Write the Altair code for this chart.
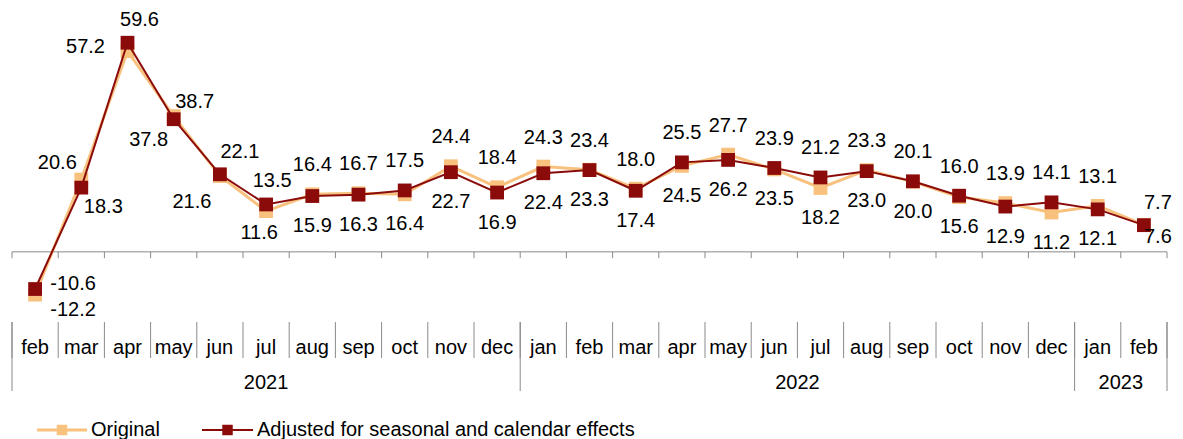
import altair as alt
import pandas as pd

# ---------------- data ----------------
months = ["feb", "mar", "apr", "may", "jun", "jul", "aug", "sep", "oct", "nov", "dec",
          "jan", "feb", "mar", "apr", "may", "jun", "jul", "aug", "sep", "oct", "nov", "dec",
          "jan", "feb"]
year_names = ["2021", "2022", "2023"]
year_month_counts = [11, 12, 2]
original = [-12.2, 20.6, 57.2, 38.7, 21.6, 11.6, 16.4, 16.7, 16.4, 24.4, 18.4,
            24.3, 23.4, 18.0, 24.5, 27.7, 23.5, 18.2, 23.3, 20.0, 15.6, 13.9, 11.2,
            13.1, 7.7]
adjusted = [-10.6, 18.3, 59.6, 37.8, 22.1, 13.5, 15.9, 16.3, 17.5, 22.7, 16.9,
            22.4, 23.3, 17.4, 25.5, 26.2, 23.9, 21.2, 23.0, 20.1, 16.0, 12.9, 14.1,
            12.1, 7.6]
series_names = ["Original", "Adjusted for seasonal and calendar effects"]

# ---------------- style / layout ----------------
ORANGE = "#F8C27E"
RED = "#8B0B0B"
GREY = "#8A8A8A"
FONT = "Liberation Sans"
FS = 20
W, H = 1155, 314
n = len(months)

xscale = alt.Scale(domain=[0, n], nice=False, zero=False)
yscale = alt.Scale(domain=[-20, 69.5], nice=False, zero=False)

# label offsets (dx, dy) relative to marker; default above/below
DEFAULT_HI = (0, -29)
DEFAULT_LO = (0, 30)
special = {
    (0, "hi"): (38, -5), (0, "lo"): (38, 15),
    (1, "hi"): (-24, -17), (1, "lo"): (22, 19),
    (2, "hi"): (12, -23), (2, "lo"): (-42, -4),
    (3, "hi"): (21, -14), (3, "lo"): (-25, 21),
    (4, "hi"): (20, -22), (4, "lo"): (-28, 26),
    (5, "hi"): (6, -23), (5, "lo"): (-7, 22),
    (24, "hi"): (14, -22), (24, "lo"): (14, 12),
}

# ---------------- tables ----------------
df = pd.DataFrame({
    "x": [i + 0.5 for i in range(n)] * 2,
    "value": original + adjusted,
    "series": [series_names[0]] * n + [series_names[1]] * n,
})

rows = []
for i in range(n):
    o, a = original[i], adjusted[i]
    hi_v, lo_v = (o, a) if o >= a else (a, o)
    for kind, v in (("hi", hi_v), ("lo", lo_v)):
        off = special.get((i, kind), DEFAULT_HI if kind == "hi" else DEFAULT_LO)
        rows.append({"x": i + 0.5, "value": v, "label": f"{v:.1f}",
                     "dx": off[0], "dy": off[1]})
labels = pd.DataFrame(rows)

bounds = pd.DataFrame({"b": list(range(n + 1))})
year_bounds = [0]
for c in year_month_counts:
    year_bounds.append(year_bounds[-1] + c)
ybounds = pd.DataFrame({"b": year_bounds})
year_centers = pd.DataFrame({
    "x": [(year_bounds[k] + year_bounds[k + 1]) / 2 for k in range(len(year_names))],
    "year": year_names,
})
month_df = pd.DataFrame({"x": [i + 0.5 for i in range(n)], "m": months})

X = lambda f: alt.X(f, scale=xscale, axis=None)
Y = lambda f: alt.Y(f, scale=yscale, axis=None)

layers = []

# zero line with ticks
zero = alt.Chart(pd.DataFrame({"a": [0], "b": [n], "y": [0]})).mark_rule(
    color=GREY, strokeWidth=1).encode(x=X("a:Q"), x2="b:Q", y=Y("y:Q"))
ticks = alt.Chart(bounds).transform_calculate(y0="0", y1="-1.8").mark_rule(
    color=GREY, strokeWidth=1).encode(x=X("b:Q"), y=Y("y0:Q"), y2="y1:Q")
layers += [zero, ticks]

# series
for name, color, sw in ((series_names[0], ORANGE, 3), (series_names[1], RED, 2)):
    base = alt.Chart(df).transform_filter(alt.datum.series == name)
    layers.append(base.mark_line(color=color, strokeWidth=sw).encode(
        x=X("x:Q"), y=Y("value:Q")))
    layers.append(base.mark_point(shape="square", filled=True, size=190, opacity=1,
                                  color=color).encode(x=X("x:Q"), y=Y("value:Q")))

# value labels grouped by offset
for (dx, dy), g in labels.groupby(["dx", "dy"]):
    layers.append(alt.Chart(g).mark_text(
        dx=int(dx), dy=int(dy), font=FONT, fontSize=FS, color="#000000",
        align="center", baseline="middle").encode(
        x=X("x:Q"), y=Y("value:Q"), text="label:N"))

# category axis below
layers.append(alt.Chart(bounds).mark_rule(color=GREY, strokeWidth=1).encode(
    x=X("b:Q"), y=alt.value(H), y2=alt.value(H + 36)))
layers.append(alt.Chart(ybounds).mark_rule(color=GREY, strokeWidth=1).encode(
    x=X("b:Q"), y=alt.value(H), y2=alt.value(H + 69)))
layers.append(alt.Chart(month_df).mark_text(
    font=FONT, fontSize=FS, color="#000000", baseline="middle").encode(
    x=X("x:Q"), y=alt.value(H + 26), text="m:N"))
layers.append(alt.Chart(year_centers).mark_text(
    font=FONT, fontSize=FS, color="#000000", baseline="middle").encode(
    x=X("x:Q"), y=alt.value(H + 61), text="year:N"))

# legend
one = pd.DataFrame({"a": [0]})
LY = H + 108
for x0, x1, color, sw, name in ((25, 75, ORANGE, 3, series_names[0]),
                                (190, 241, RED, 2, series_names[1])):
    layers.append(alt.Chart(one).mark_rule(color=color, strokeWidth=sw).encode(
        x=alt.value(x0), x2=alt.value(x1), y=alt.value(LY)))
    layers.append(alt.Chart(one).mark_point(shape="square", filled=True, size=110,
                                            opacity=1, color=color).encode(
        x=alt.value((x0 + x1) / 2), y=alt.value(LY)))
    layers.append(alt.Chart(one).mark_text(
        font=FONT, fontSize=FS, color="#000000", align="left", baseline="middle",
        text=name).encode(x=alt.value(x1 + 4), y=alt.value(LY)))

chart = alt.layer(*layers).properties(
    width=W, height=H,
    autosize=alt.AutoSizeParams(type="none"),
    padding={"left": 4, "top": 0, "right": 8, "bottom": 121},
).configure_view(stroke=None)

chart.save("out.html", embed_options={"renderer": "svg", "actions": False})
